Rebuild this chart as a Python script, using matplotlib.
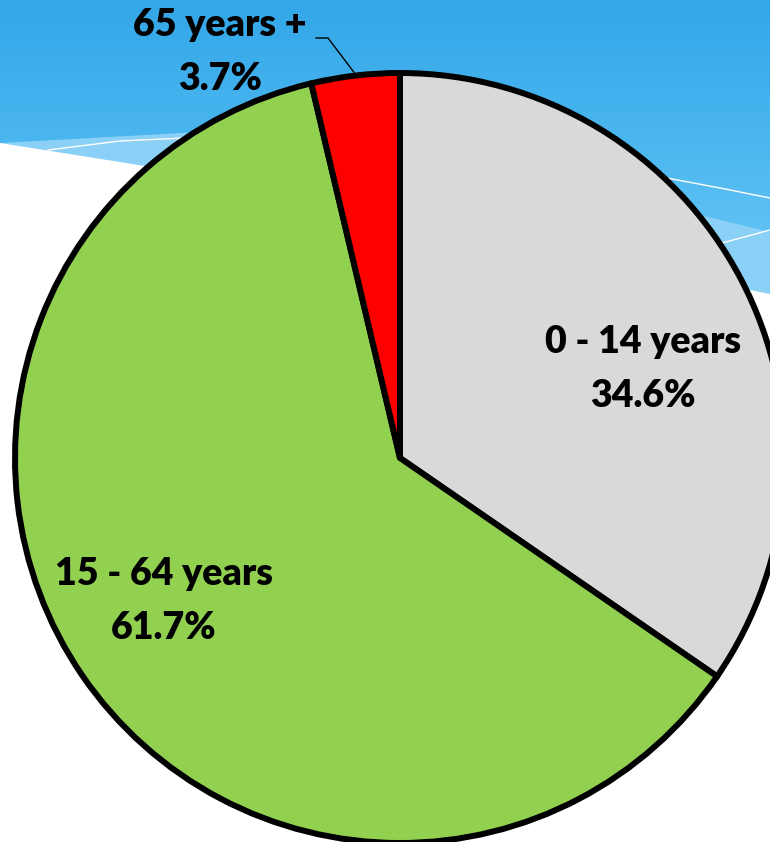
import numpy as np
import matplotlib.pyplot as plt
from matplotlib.colors import LinearSegmentedColormap
from matplotlib.patches import Polygon

# --- Data ---
groups = ["0 - 14 years", "15 - 64 years", "65 years +"]
shares = [34.6, 61.7, 3.7]
colors = ["#D9D9D9", "#92D050", "#FF0000"]

W, H = 770, 842
fig = plt.figure(figsize=(W / 100, H / 100), dpi=100)
ax = fig.add_axes([0, 0, 1, 1])

# --- Background (slide theme: blue gradient + white wave) ---
grad = np.linspace(0, 1, 256).reshape(-1, 1)
blue_cmap = LinearSegmentedColormap.from_list("bg", ["#33A7E8", "#4DB8F0", "#72CBF8"])
ax.imshow(grad, extent=[0, W, H - 310, H], origin="upper", aspect="auto",
          cmap=blue_cmap, zorder=0)
ax.add_patch(Polygon([(0, H - 143), (200, H - 132), (450, H - 160), (700, H - 215),
                      (W, H - 232), (W, 0), (0, 0)],
                     closed=True, fc="#8BD0F6", ec="none", zorder=1))
ax.add_patch(Polygon([(0, H - 143), (145, H - 166), (450, H - 230), (750, H - 290),
                      (W, H - 294), (W, 0), (0, 0)],
                     closed=True, fc="white", ec="none", zorder=2))
ax.plot([48, 120, 185], [H - 150, H - 141, H - 138], color="white", lw=1, zorder=2)
ax.plot([667, 720, W], [H - 178, H - 188, H - 198], color="white", lw=1, zorder=2)
ax.plot([722, W], [H - 243, H - 230], color="white", lw=1, zorder=2)

# --- Pie ---
cx, cy, r = 400, H - 458, 385
wedges, _ = ax.pie(shares, colors=colors, startangle=90, counterclock=False,
                   center=(cx, cy), radius=r, frame=True,
                   wedgeprops=dict(edgecolor="black", linewidth=4.3))
for w in wedges:
    w.set_zorder(3)
ax.set_xlim(0, W)
ax.set_ylim(0, H)
ax.set_aspect("equal")
ax.axis("off")

fnt = dict(family=["Lato", "DejaVu Sans"], fontweight="heavy", fontsize=27,
           color="black", ha="center", va="center", zorder=5, linespacing=1.68)

ax.text(643, H - 369, f"{groups[0]}\n{shares[0]}%", **fnt)
ax.text(164, H - 601, f"{groups[1]}\n{shares[1]}%", **fnt)
ax.text(220, H - 52, f"{groups[2]}\n{shares[2]}%", **fnt)

# leader line for the small slice
ax.plot([316, 328, 356], [H - 38, H - 38, H - 75], color="black", lw=1, zorder=4)

fig.savefig("out.png", dpi=100)
plt.close(fig)
